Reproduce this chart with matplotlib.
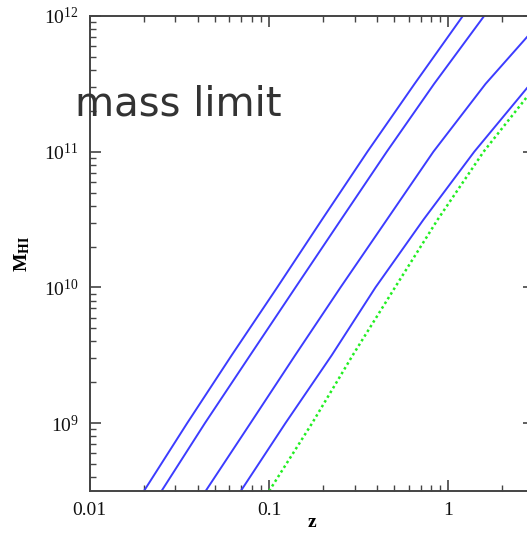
import numpy as np
import matplotlib
matplotlib.use("Agg")
import matplotlib.pyplot as plt
from matplotlib.ticker import LogLocator

# log10(z) values read at log10(M_HI) levels
logM_levels = [8.5, 9.0, 9.5, 10.0, 10.5, 11.0, 11.5, 12.0]
line1_logz = [-1.698, -1.457, -1.209, -0.955, -0.705, -0.452, -0.189, 0.080]
line2_logz = [-1.600, -1.358, -1.106, -0.853, -0.599, -0.344, -0.080, 0.199]
# lines that leave through the right edge (z = 3)
line3_logz = [-1.354, -1.104, -0.855, -0.602, -0.343, -0.084, 0.207, 0.438]
line3_logM = [8.5, 9.0, 9.5, 10.0, 10.5, 11.0, 11.5, 11.845]
line4_logz = [-1.158, -0.909, -0.651, -0.407, -0.139, 0.144, 0.438]
line4_logM = [8.5, 9.0, 9.5, 10.0, 10.5, 11.0, 11.469]
green_logz = [-1.000, -0.760, -0.534, -0.298, -0.060, 0.196, 0.438]
green_logM = [8.5, 9.0, 9.5, 10.0, 10.5, 11.0, 11.404]

plt.rcParams['font.family'] = ['Liberation Serif', 'DejaVu Serif']
plt.rcParams['mathtext.fontset'] = 'stix'

fig = plt.figure(figsize=(5.27, 5.33), dpi=100)
ax = fig.add_axes([0.1704, 0.0788, 0.8429, 0.8912])

blue = '#3c3cff'
for lz, lm in [(line1_logz, logM_levels), (line2_logz, logM_levels),
               (line3_logz, line3_logM), (line4_logz, line4_logM)]:
    ax.plot(10**np.array(lz), 10**np.array(lm), color=blue, lw=1.4)
ax.plot(10**np.array(green_logz), 10**np.array(green_logM), color='#22ee22',
        lw=1.8, ls=(0, (1, 1.2)))

ax.set_xscale('log')
ax.set_yscale('log')
ax.set_xlim(0.01, 3)
ax.set_ylim(10**8.5, 1e12)

ax.xaxis.set_major_locator(LogLocator(base=10, numticks=10))
ax.xaxis.set_minor_locator(LogLocator(base=10, subs=np.arange(2, 10), numticks=20))
ax.yaxis.set_major_locator(LogLocator(base=10, numticks=10))
ax.yaxis.set_minor_locator(LogLocator(base=10, subs=np.arange(2, 10), numticks=20))
ax.set_xticks([0.01, 0.1, 1])
ax.set_xticklabels(['0.01', '0.1', '1'])

edge = '#444444'
for s in ax.spines.values():
    s.set_color(edge)
    s.set_linewidth(1.4)
ax.tick_params(which='both', direction='in', top=True, right=True, color=edge)
ax.tick_params(which='major', length=8, width=1.2, labelsize=14, pad=8, labelcolor='#111111')
ax.tick_params(which='minor', length=4.5, width=1.0)

ax.set_xlabel('z', fontsize=14, fontweight='bold')
ax.xaxis.set_label_coords(0.5, -(522 - 491) / 475.0)
ax.xaxis.label.set_va('center')
ax.set_ylabel(r'M$_{\mathbf{HI}}$', fontsize=14, fontweight='bold')
ax.yaxis.set_label_coords(-(89.8 - 22) / 444.2, 0.5)
ax.yaxis.label.set_va('center')

fig.text(75 / 527, 1 - 115 / 533, 'mass limit', fontsize=29, color='#333333',
         family='DejaVu Sans', ha='left', va='baseline')

fig.savefig('out.png', dpi=100)
